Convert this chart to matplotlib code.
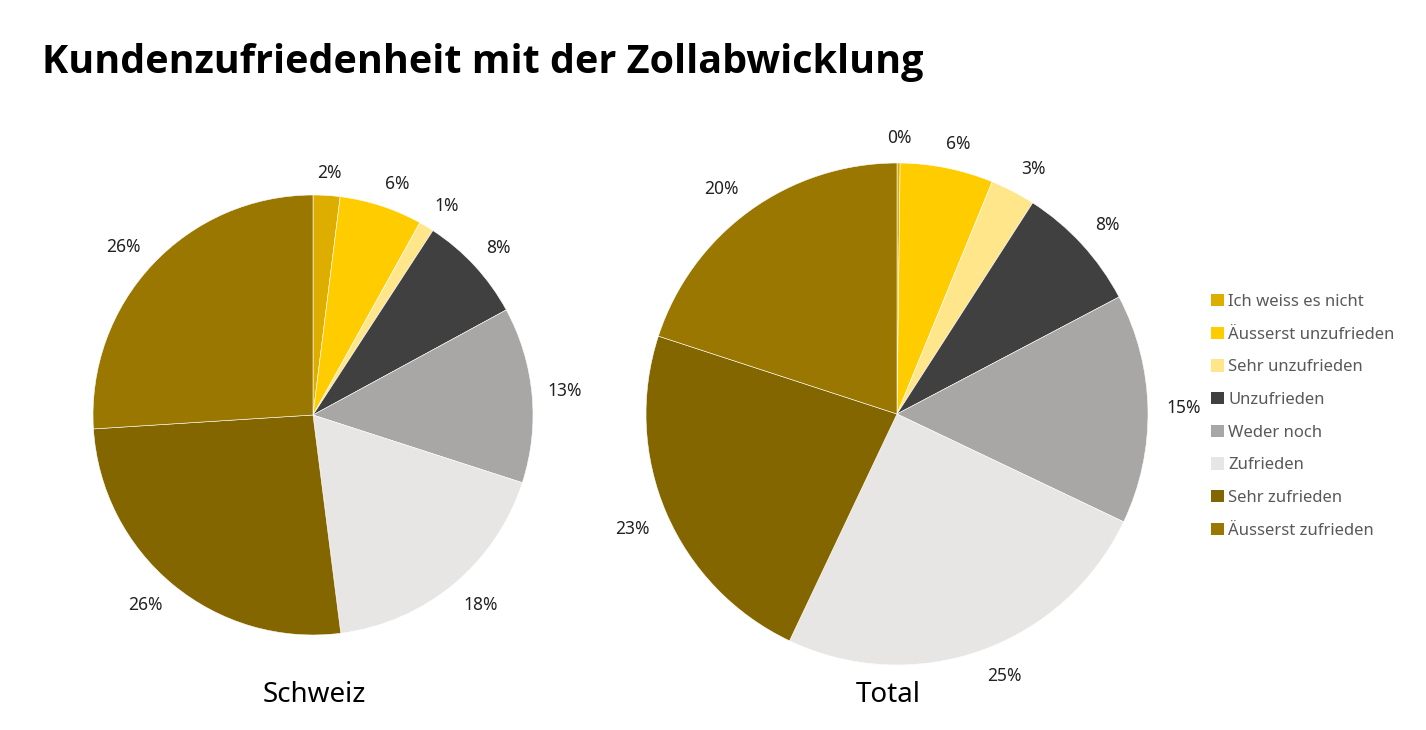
import matplotlib
matplotlib.use("Agg")
import numpy as np
import matplotlib.pyplot as plt
from matplotlib.patches import Patch

# Kundenzufriedenheit - Werte in Prozent
kategorien = ["Ich weiss es nicht", "Äusserst unzufrieden", "Sehr unzufrieden",
              "Unzufrieden", "Weder noch", "Zufrieden", "Sehr zufrieden",
              "Äusserst zufrieden"]
schweiz = [1.97, 6.1, 1.1, 7.9, 12.9, 18.0, 26.0, 26.0]
total = [0.2, 6.0, 2.9, 8.2, 14.8, 25.0, 23.0, 20.0]
farben = ["#DDAE00", "#FFCC00", "#FFE68A", "#404040", "#A8A7A5",
          "#E7E6E4", "#846600", "#997700"]

plt.rcParams['font.family'] = ['Noto Sans', 'DejaVu Sans']

W, H = 1426, 730
fig = plt.figure(figsize=(W / 100, H / 100), dpi=100)
renderer = fig.canvas.get_renderer()


def pie_axes(cx, cy, r, werte, titel, titel_x, titel_y):
    # cx, cy, r in Pixel (cy von oben)
    lim = 1.4
    size = 2 * lim * r
    ax = fig.add_axes([(cx - size / 2) / W, (H - cy - size / 2) / H, size / W, size / H])
    wedges, _, autotexts = ax.pie(
        werte, colors=farben, startangle=90, counterclock=False,
        autopct=lambda p: "%d%%" % round(p), pctdistance=1.1,
        wedgeprops=dict(edgecolor="white", linewidth=0.4),
        textprops=dict(fontsize=12.5, color="#222222"))
    ax.set_xlim(-lim, lim)
    ax.set_ylim(-lim, lim)
    ax.set_aspect("equal")
    ax.axis("off")
    # Beschriftung ausserhalb: Textbox-Ecke liegt auf einem Kreis um den Rand
    gap = 0.072
    for w, t in zip(wedges, autotexts):
        th = np.deg2rad((w.theta1 + w.theta2) / 2)
        c, s = np.cos(th), np.sin(th)
        bb = t.get_window_extent(renderer)
        hw = bb.width / 2 / r
        hh = bb.height / 2 / r * (0.75 if s > 0 else 0.95)
        x = (1 + gap) * c + hw * np.clip(3 * c, -1, 1)
        y = (1 + gap) * s + hh * np.clip(3 * s, -1, 1)
        t.set_position((x, y))
    fig.text(titel_x / W, 1 - titel_y / H, titel, ha="center", va="center",
             fontsize=20, color="black")
    return ax


pie_axes(313, 415, 220, schweiz, "Schweiz", 314, 695)
pie_axes(897, 414, 251, total, "Total", 888, 695)

titel = fig.text(42 / W, 1 - 62 / H, "Kundenzufriedenheit mit der Zollabwicklung",
                 fontsize=28, fontweight="bold", family=["Open Sans", "DejaVu Sans"],
                 ha="left", va="center")
bw = titel.get_window_extent(renderer).width
titel.set_fontsize(28 * 878 / bw)

handles = [Patch(facecolor=c, edgecolor="none") for c in farben]
leg = fig.legend(handles, kategorien, loc="upper left",
                 bbox_to_anchor=(1196 / W, 1 - 279 / H), frameon=False,
                 fontsize=12, handlelength=0.75, handleheight=0.75,
                 handletextpad=0.3, labelspacing=1.0)
for t in leg.get_texts():
    t.set_color("#595959")

fig.savefig("out.png", dpi=100)
